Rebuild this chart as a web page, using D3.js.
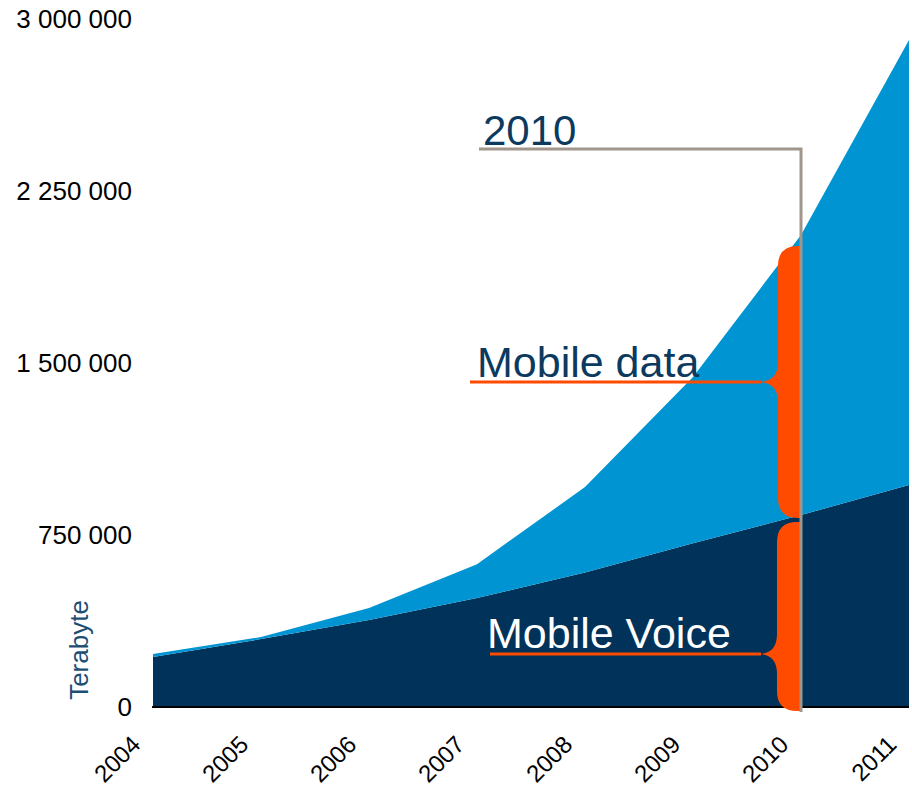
<!DOCTYPE html>
<html>
<head>
<meta charset="utf-8">
<script src="https://cdn.jsdelivr.net/npm/d3@7"></script>
<style>
  html, body { margin: 0; padding: 0; background: #ffffff; }
  svg { display: block; font-family: "Liberation Sans", Arial, sans-serif; }
</style>
</head>
<body>
<svg id="chart" width="912" height="786"></svg>
<script>
// ---- data ----
const years = [2004, 2005, 2006, 2007, 2008, 2009, 2010, 2011];
const mobileVoice = [218000, 296000, 379000, 475000, 587000, 714000, 837000, 968000];
const mobileData  = [13000, 9000, 53000, 148000, 372000, 725000, 1221000, 1940000];
const yTicks = [0, 750000, 1500000, 2250000, 3000000];
const yTickLabels = ["0", "750 000", "1 500 000", "2 250 000", "3 000 000"];
const seriesNames = ["Mobile Voice", "Mobile data"];
const highlightYear = 2010;
const yAxisTitle = "Terabyte";

// ---- layout ----
const svg = d3.select("#chart");
const x = d3.scaleLinear().domain([2004, 2011]).range([153, 909]);
const y = d3.scaleLinear().domain([0, 3000000]).range([707, 19]);

const colors = { voice: "#00325a", data: "#0095d2", orange: "#ff4b00", gray: "#a0968c", text: "#0c3a5e" };

const table = years.map((yr, i) => ({ year: yr, voice: mobileVoice[i], data: mobileData[i] }));
const stack = d3.stack().keys(["voice", "data"]);
const layers = stack(table);

const area = d3.area()
  .x(d => x(d.data.year))
  .y0(d => y(d[0]))
  .y1(d => y(d[1]));

svg.append("g").selectAll("path")
  .data(layers)
  .join("path")
  .attr("d", area)
  .attr("fill", d => d.key === "voice" ? colors.voice : colors.data);

// baseline
svg.append("line")
  .attr("x1", x(2004) - 1).attr("x2", x(2011))
  .attr("y1", y(0)).attr("y2", y(0))
  .attr("stroke", "#000").attr("stroke-width", 2);

// y tick labels
svg.append("g").selectAll("text")
  .data(yTicks)
  .join("text")
  .attr("x", 132)
  .attr("y", d => y(d))
  .attr("dy", "0.35em")
  .attr("text-anchor", "end")
  .attr("font-size", 26)
  .attr("fill", "#000")
  .text((d, i) => yTickLabels[i]);

// x tick labels (rotated)
svg.append("g").selectAll("text")
  .data(years)
  .join("text")
  .attr("transform", d => `translate(${x(d) - 11},${746}) rotate(-45)`)
  .attr("text-anchor", "end")
  .attr("font-size", 24)
  .attr("fill", "#000")
  .text(d => d);

// y axis title
svg.append("text")
  .attr("transform", `translate(88,650) rotate(-90)`)
  .attr("text-anchor", "middle")
  .attr("font-size", 26)
  .attr("fill", "#1d4e74")
  .text(yAxisTitle);

// ---- annotations ----
const hi = years.indexOf(highlightYear);
const xr = x(highlightYear);
const vTop = y(mobileVoice[hi]);
const tTop = y(mobileVoice[hi] + mobileData[hi]);

function brace(R, top, bottom, mid, w, tip, r) {
  const L = R - w, T = R - w - tip;
  return `M${R},${top} L${L + r},${top} Q${L},${top} ${L},${top + r}` +
    ` L${L},${mid - r} Q${L},${mid} ${T},${mid} Q${L},${mid} ${L},${mid + r}` +
    ` L${L},${bottom - r} Q${L},${bottom} ${L + r},${bottom} L${R},${bottom} Z`;
}

const dataMid = (tTop + 11 + vTop + 3) / 2;
const voiceMid = y(0) - 53;

// orange braces
svg.append("path")
  .attr("d", brace(xr, tTop + 11, vTop + 3, dataMid, 23, 20, 20))
  .attr("fill", colors.orange);
svg.append("path")
  .attr("d", brace(xr, vTop + 7, y(0) + 4, voiceMid, 24, 19, 20))
  .attr("fill", colors.orange);

// orange leader lines
svg.append("line")
  .attr("x1", 470).attr("x2", xr - 40)
  .attr("y1", dataMid).attr("y2", dataMid)
  .attr("stroke", colors.orange).attr("stroke-width", 3);
svg.append("line")
  .attr("x1", 490).attr("x2", xr - 40)
  .attr("y1", voiceMid).attr("y2", voiceMid)
  .attr("stroke", colors.orange).attr("stroke-width", 3);

// gray year bracket
svg.append("path")
  .attr("d", `M479,149 H${xr} V${y(0) + 5}`)
  .attr("fill", "none")
  .attr("stroke", colors.gray)
  .attr("stroke-width", 3);

// labels
svg.append("text")
  .attr("x", 483).attr("y", 145)
  .attr("font-size", 42)
  .attr("fill", colors.text)
  .text(String(highlightYear));
svg.append("text")
  .attr("x", 477).attr("y", 377)
  .attr("font-size", 43)
  .attr("fill", colors.text)
  .text(seriesNames[1]);
svg.append("text")
  .attr("x", 487).attr("y", 648)
  .attr("font-size", 43)
  .attr("fill", "#ffffff")
  .text(seriesNames[0]);
</script>
</body>
</html>
